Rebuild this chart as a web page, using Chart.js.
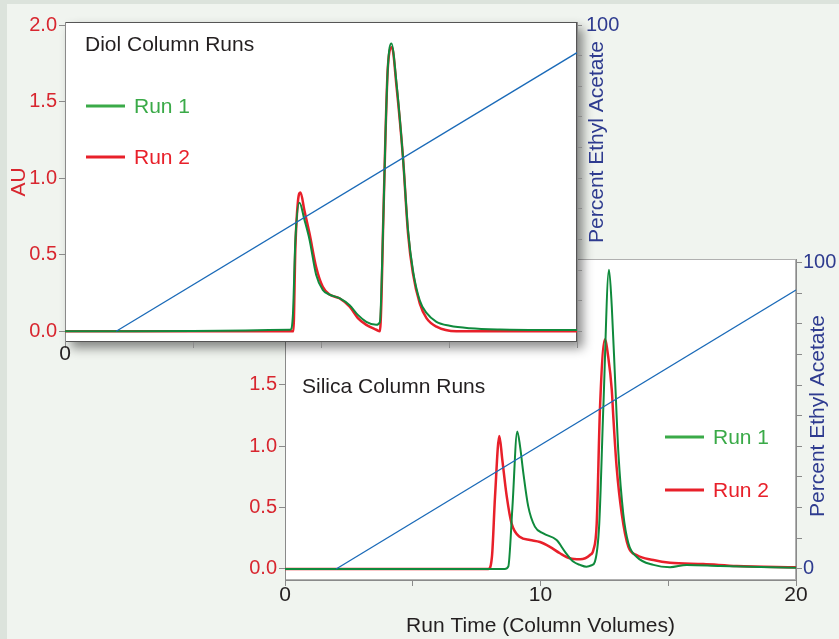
<!DOCTYPE html>
<html>
<head>
<meta charset="utf-8">
<script src="https://cdn.jsdelivr.net/npm/chart.js@4.4.0/dist/chart.umd.min.js"></script>
<style>
  html, body { margin: 0; padding: 0; }
  body { width: 839px; height: 639px; background: #f0f4ef; position: relative; overflow: hidden; }
  #edge { position: absolute; left: 0; top: 0; width: 839px; height: 639px; box-sizing: border-box;
          border-top: 4px solid #dce3dc; border-left: 7px solid #dce3dc; }
  canvas { position: absolute; left: 0; top: 0; }
</style>
</head>
<body>
<div id="edge"></div>
<canvas id="silica" width="839" height="639"></canvas>
<canvas id="diol" width="839" height="639"></canvas>
<script>
// Diol column, run 1 (green) and run 2 (red): column volumes vs AU
var diolRun1X = [0, 8.8, 8.9, 9.0, 9.16, 9.35, 9.55, 9.81, 10.07, 10.33, 10.72, 11.12, 11.44, 11.77, 12.16, 12.3, 12.42, 12.52, 12.61, 12.75, 12.95, 13.2, 13.4, 13.59, 13.86, 14.12, 14.51, 15.03, 15.81, 17.0, 20]
var diolRun1Y = [0, 0.01, 0.1, 0.6, 0.84, 0.73, 0.6, 0.37, 0.27, 0.24, 0.216, 0.17, 0.107, 0.062, 0.042, 0.06, 0.64, 1.29, 1.72, 1.88, 1.62, 1.14, 0.66, 0.4, 0.2, 0.12, 0.062, 0.036, 0.02, 0.012, 0.008]
var diolRun2X = [0, 8.92, 9.0, 9.1, 9.2, 9.35, 9.55, 9.81, 10.07, 10.33, 10.72, 11.12, 11.44, 11.77, 12.16, 12.3, 12.36, 12.42, 12.52, 12.61, 12.77, 12.95, 13.2, 13.4, 13.59, 13.86, 14.12, 14.51, 15.29, 20]
var diolRun2Y = [0, 0, 0.55, 0.85, 0.907, 0.79, 0.64, 0.42, 0.29, 0.24, 0.216, 0.16, 0.086, 0.042, 0.01, 0.0, 0.2, 0.64, 1.29, 1.72, 1.855, 1.6, 1.14, 0.64, 0.38, 0.18, 0.086, 0.03, 0, 0]

// Silica column
var silicaRun1X = [0, 8.6, 8.74, 8.9, 9.09, 9.2, 9.33, 9.52, 9.78, 10.11, 10.63, 10.96, 11.28, 11.55, 11.8, 12.0, 12.13, 12.3, 12.46, 12.68, 12.79, 12.92, 13.05, 13.24, 13.44, 13.76, 14.42, 15.07, 15.72, 17.03, 20]
var silicaRun1Y = [0, 0, 0.02, 0.5, 1.12, 1.0, 0.78, 0.51, 0.345, 0.29, 0.236, 0.14, 0.06, 0.033, 0.019, 0.03, 0.06, 0.37, 1.32, 2.44, 2.14, 1.54, 0.94, 0.45, 0.21, 0.1, 0.033, 0.014, 0.033, 0.024, 0.01]
var silicaRun2X = [0, 7.96, 8.1, 8.22, 8.39, 8.5, 8.68, 8.87, 9.2, 9.59, 9.98, 10.37, 10.76, 11.15, 11.55, 11.94, 12.07, 12.2, 12.33, 12.52, 12.65, 12.79, 12.85, 12.98, 13.18, 13.44, 13.76, 14.42, 15.07, 16.37, 17.68, 20]
var silicaRun2Y = [0, 0, 0.1, 0.59, 1.085, 0.9, 0.59, 0.37, 0.26, 0.236, 0.22, 0.18, 0.128, 0.087, 0.079, 0.114, 0.155, 0.37, 1.32, 1.87, 1.73, 1.46, 1.24, 0.83, 0.45, 0.18, 0.114, 0.073, 0.05, 0.04, 0.024, 0.014]

// Gradient, percent ethyl acetate (same for both runs)
var gradientX = [2, 20]
var gradientY = [0, 91]

var runLabels = ["Run 1", "Run 2"]
var xTickLabelsDiol = [0]
var xTickLabelsSilica = [0, 10, 20]
var rightTickLabelsDiol = [100]
var rightTickLabelsSilica = [0, 100]

var RED = "#e8202a"
var GREEN = "#0f8a3c"
var GREEN_TXT = "#3aaa48"
var RED_TICK = "#d8262f"
var NAVY = "#2e3b8f"
var BLUE = "#1a6ab8"
var FONT = "'Liberation Sans', Arial, sans-serif"

function pts(xs, ys) {
  var out = []
  for (var i = 0; i < xs.length; i++) out.push({ x: xs[i], y: ys[i] })
  return out
}

function datasets(r1x, r1y, r2x, r2y) {
  return [
    { label: "gradient", data: pts(gradientX, gradientY), yAxisID: "y1", borderColor: BLUE, borderWidth: 1.3, pointRadius: 0, tension: 0 },
    { label: runLabels[0], data: pts(r1x, r1y), yAxisID: "y", borderColor: GREEN, borderWidth: 2, pointRadius: 0, cubicInterpolationMode: "monotone" },
    { label: runLabels[1], data: pts(r2x, r2y), yAxisID: "y", borderColor: RED, borderWidth: 2.5, pointRadius: 0, cubicInterpolationMode: "monotone" }
  ]
}

// white panel, box and overlay text
function panelPlugin(cfg) {
  return {
    id: "panel",
    beforeDraw: function(chart) {
      var a = chart.chartArea, ctx = chart.ctx
      ctx.save()
      if (cfg.shadow) {
        ctx.shadowColor = "rgba(0,0,0,0.45)"
        ctx.shadowBlur = 10
        ctx.shadowOffsetX = 6
        ctx.shadowOffsetY = 6
      }
      ctx.fillStyle = "#fff"
      ctx.fillRect(a.left, a.top, a.right - a.left, a.bottom - a.top)
      ctx.restore()
      ctx.save()
      ctx.strokeStyle = cfg.boxColor
      ctx.lineWidth = 1
      ctx.strokeRect(a.left + 0.5, a.top + 0.5, a.right - a.left - 1, a.bottom - a.top - 1)
      ctx.restore()
    },
    afterDraw: function(chart) {
      var ctx = chart.ctx
      ctx.save()
      ctx.textBaseline = "middle"
      ctx.textAlign = "left"
      ctx.font = "21px " + FONT
      ctx.fillStyle = "#231f20"
      ctx.fillText(cfg.title, cfg.titleX, cfg.titleY)
      var cols = [GREEN_TXT, RED]
      for (var i = 0; i < 2; i++) {
        var y = cfg.legY[i]
        ctx.strokeStyle = cols[i]
        ctx.lineWidth = 3
        ctx.beginPath()
        ctx.moveTo(cfg.legX, y)
        ctx.lineTo(cfg.legX + 39, y)
        ctx.stroke()
        ctx.fillStyle = cols[i]
        ctx.fillText(runLabels[i], cfg.legX + 48, y + 1)
      }
      // right axis title, reading bottom to top
      ctx.translate(cfg.rtX, cfg.rtY)
      ctx.rotate(-Math.PI / 2)
      ctx.textAlign = "center"
      ctx.fillStyle = NAVY
      ctx.fillText("Percent Ethyl Acetate", 0, 0)
      ctx.restore()
    }
  }
}

function makeChart(id, opt) {
  return new Chart(document.getElementById(id), {
    type: "line",
    data: { datasets: datasets(opt.r1x, opt.r1y, opt.r2x, opt.r2y) },
    options: {
      responsive: false,
      animation: false,
      events: [],
      layout: { autoPadding: false, padding: opt.padding },
      plugins: { legend: { display: false }, tooltip: { enabled: false } },
      scales: {
        x: {
          type: "linear", position: "bottom", min: 0, max: 20,
          grid: { drawOnChartArea: false, drawTicks: true, tickLength: opt.xTick, color: "#8a8a8a" },
          border: { display: opt.xBorder, color: "#8a8a8a" },
          ticks: {
            stepSize: 5, includeBounds: false, autoSkip: false, maxRotation: 0, color: "#231f20",
            font: { size: 21, family: FONT, lineHeight: 1 }, padding: opt.xPad,
            callback: function(v) { return opt.xLabels.indexOf(v) >= 0 ? String(v) : "" }
          },
          title: opt.xTitle ? { display: true, text: "Run Time (Column Volumes)", color: "#231f20", font: { size: 21, family: FONT, lineHeight: 1.2 }, padding: { top: 0, bottom: 0 } } : { display: false },
          afterFit: function(s) { s.height = opt.xHeight }
        },
        y: {
          position: "left", min: opt.yMin, max: opt.yMax,
          grid: { drawOnChartArea: false, drawTicks: true, tickLength: 6, color: "#8a8a8a" },
          border: { display: true, color: "#8a8a8a" },
          ticks: {
            stepSize: 0.5, includeBounds: false, color: RED_TICK, padding: 2,
            font: { size: 20, family: FONT },
            callback: function(v) { return v.toFixed(1) }
          },
          title: opt.yTitle ? { display: true, text: "AU", color: RED_TICK, font: { size: 21, family: FONT, lineHeight: 1.2 }, padding: { top: 7, bottom: 0 } } : { display: false },
          afterFit: function(s) { s.width = opt.yWidth }
        },
        y1: {
          position: "right", min: opt.rMin, max: opt.rMax,
          grid: { drawOnChartArea: false, drawTicks: true, tickLength: opt.rTick, color: "#8a8a8a" },
          border: { display: true, color: "#8a8a8a" },
          ticks: {
            stepSize: 10, includeBounds: false, autoSkip: false, color: NAVY, padding: opt.rPad,
            font: { size: 20, family: FONT },
            callback: function(v) { return opt.rLabels.indexOf(v) >= 0 ? String(v) : "" }
          },
          afterFit: function(s) { s.width = opt.rWidth }
        }
      }
    },
    plugins: [panelPlugin(opt.panel)]
  })
}

// lower chart first, the upper one sits over it
makeChart("silica", {
  r1x: silicaRun1X, r1y: silicaRun1Y, r2x: silicaRun2X, r2y: silicaRun2Y,
  padding: { left: 235, top: 259, right: 0, bottom: 0 },
  xTick: 6, xPad: -1, xLabels: xTickLabelsSilica, xTitle: true, xHeight: 59, xBorder: true,
  yMin: -0.09, yMax: 2.527, yTitle: false, yWidth: 50,
  rMin: -3.6, rMax: 101.1, rTick: 6, rPad: 1, rLabels: rightTickLabelsSilica, rWidth: 43,
  panel: { shadow: false, boxColor: "#b0b0b0", title: "Silica Column Runs", titleX: 302, titleY: 387,
           legX: 665, legY: [437, 490], rtX: 818, rtY: 416 }
})

makeChart("diol", {
  r1x: diolRun1X, r1y: diolRun1Y, r2x: diolRun2X, r2y: diolRun2Y,
  padding: { left: 0, top: 22, right: 217, bottom: 267 },
  xTick: 6, xPad: -4, xLabels: xTickLabelsDiol, xTitle: false, xHeight: 30, xBorder: false,
  yMin: -0.07, yMax: 2.02, yTitle: true, yWidth: 65,
  rMin: -3.5, rMax: 101, rTick: 5, rPad: 4, rLabels: rightTickLabelsDiol, rWidth: 45,
  panel: { shadow: true, boxColor: "#555", title: "Diol Column Runs", titleX: 85, titleY: 45,
           legX: 86, legY: [106, 157], rtX: 597, rtY: 142 }
})
</script>
</body>
</html>
